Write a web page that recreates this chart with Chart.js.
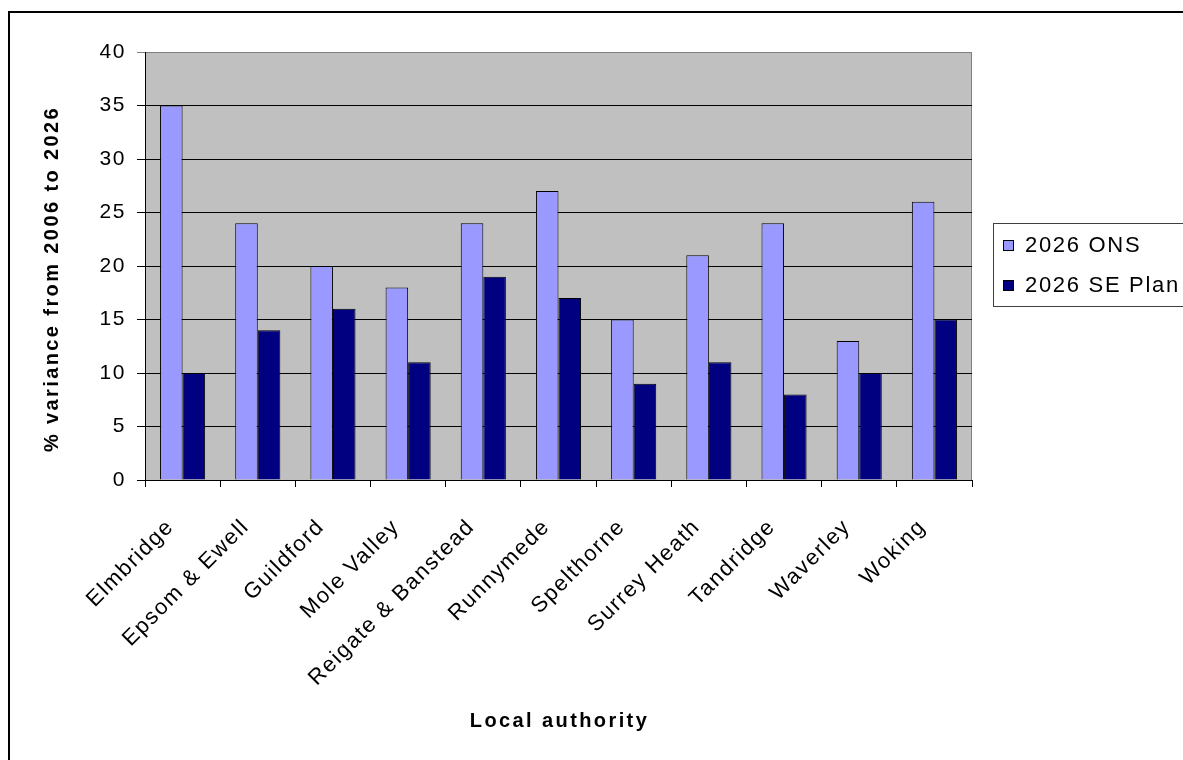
<!DOCTYPE html>
<html>
<head>
<meta charset="utf-8">
<script src="https://cdn.jsdelivr.net/npm/chart.js@4/dist/chart.umd.min.js"></script>
<style>
  html, body { margin: 0; padding: 0; background: #fff; overflow: hidden; }
  canvas { display: block; }
</style>
</head>
<body>
<canvas id="chart" width="1183" height="760"></canvas>
<script>
// Population growth by Surrey local authority
const categories = ['Elmbridge', 'Epsom & Ewell', 'Guildford', 'Mole Valley', 'Reigate & Banstead',
  'Runnymede', 'Spelthorne', 'Surrey Heath', 'Tandridge', 'Waverley', 'Woking'];
const onsValues = [35, 24, 20, 18, 24, 27, 15, 21, 24, 13, 26];
const sePlanValues = [10, 14, 16, 11, 19, 17, 9, 11, 8, 10, 15];
const seriesNames = ['2026 ONS', '2026 SE Plan'];
const yTickValues = [0, 5, 10, 15, 20, 25, 30, 35, 40];
const yAxisTitle = '% variance from 2006 to 2026';
const xAxisTitle = 'Local authority';

const FONT = '"Liberation Sans", Arial, sans-serif';
const PLOT_BG = '#C0C0C0';
const ONS_COLOR = '#9999FF';
const SE_COLOR = '#000080';
const LABEL_SPACING = '1.6px';

// Background, plot frame, axis titles, boxed legend and outer border
const framePlugin = {
  id: 'frame',
  beforeDraw(chart) {
    const { ctx, chartArea: a } = chart;
    ctx.fillStyle = '#ffffff';
    ctx.fillRect(0, 0, chart.width, chart.height);
    ctx.fillStyle = PLOT_BG;
    ctx.fillRect(a.left, a.top, a.right - a.left, a.bottom - a.top);
    ctx.strokeStyle = '#808080';
    ctx.lineWidth = 1;
    ctx.beginPath();
    ctx.moveTo(Math.round(a.right) - 0.5, a.top);
    ctx.lineTo(Math.round(a.right) - 0.5, a.bottom);
    ctx.stroke();
    // slightly widened glyph spacing for the tick labels drawn next
    ctx.letterSpacing = LABEL_SPACING;
  },
  afterDraw(chart) {
    const { ctx, chartArea: a } = chart;
    ctx.save();

    // axis titles
    ctx.fillStyle = '#000';
    ctx.font = 'bold 20px ' + FONT;
    ctx.letterSpacing = '2.4px';
    ctx.textAlign = 'center';
    ctx.textBaseline = 'alphabetic';
    ctx.fillText(xAxisTitle, (a.left + a.right) / 2 + 1, 727);
    ctx.save();
    ctx.translate(58, 279);
    ctx.rotate(-Math.PI / 2);
    ctx.fillText(yAxisTitle, 0, 0);
    ctx.restore();

    // legend box
    const lx = 993.5, ly = 223.5;
    ctx.strokeStyle = '#404040';
    ctx.lineWidth = 1;
    ctx.strokeRect(lx, ly, 260, 83);
    ctx.font = '22px ' + FONT;
    ctx.letterSpacing = '1.7px';
    ctx.textAlign = 'left';
    ctx.textBaseline = 'middle';
    chart.data.datasets.forEach((ds, i) => {
      const sy = 240 + i * 40;
      ctx.fillStyle = ds.backgroundColor;
      ctx.fillRect(1003, sy, 11, 11);
      ctx.strokeStyle = '#000';
      ctx.strokeRect(1003.5, sy + 0.5, 10, 10);
      ctx.fillStyle = '#000';
      ctx.fillText(ds.label, 1025, sy + 6);
    });

    // outer chart border
    ctx.letterSpacing = '0px';
    ctx.strokeStyle = '#000';
    ctx.lineWidth = 2;
    ctx.strokeRect(9, 12, 1400, 1000);
    ctx.restore();
  }
};

new Chart(document.getElementById('chart'), {
  type: 'bar',
  data: {
    labels: categories,
    datasets: [
      { label: seriesNames[0], data: onsValues, backgroundColor: ONS_COLOR,
        borderColor: '#000', borderWidth: 1 },
      { label: seriesNames[1], data: sePlanValues, backgroundColor: SE_COLOR,
        borderColor: '#000', borderWidth: 1 }
    ]
  },
  options: {
    responsive: false,
    animation: false,
    devicePixelRatio: 1,
    layout: { padding: { left: 0, top: 52, right: 211, bottom: 0 } },
    datasets: { bar: { categoryPercentage: 0.6, barPercentage: 1.0 } },
    plugins: {
      legend: { display: false },
      tooltip: { enabled: false },
      title: { display: false }
    },
    scales: {
      x: {
        offset: true,
        grid: { display: true, drawOnChartArea: false, drawTicks: true, tickLength: 7,
                color: '#000', lineWidth: 1, offset: true },
        border: { display: true, color: '#000', width: 1 },
        ticks: {
          autoSkip: false, maxRotation: 45, minRotation: 45,
          color: '#000', font: { family: FONT, size: 22 },
          padding: 27, labelOffset: -12
        },
        afterFit(scale) { scale.height = 280; }
      },
      y: {
        min: 0, max: 40,
        afterBuildTicks(scale) { scale.ticks = yTickValues.map(v => ({ value: v })); },
        grid: {
          display: true, drawOnChartArea: true, drawTicks: true, tickLength: 8,
          color: (c) => (c.tick && c.tick.value === 40 ? '#808080' : '#000'), lineWidth: 1
        },
        border: { display: true, color: '#000', width: 1 },
        ticks: { color: '#000', font: { family: FONT, size: 21 }, padding: 11 },
        afterFit(scale) { scale.width = 145; }
      }
    }
  },
  plugins: [framePlugin]
});
</script>
</body>
</html>
